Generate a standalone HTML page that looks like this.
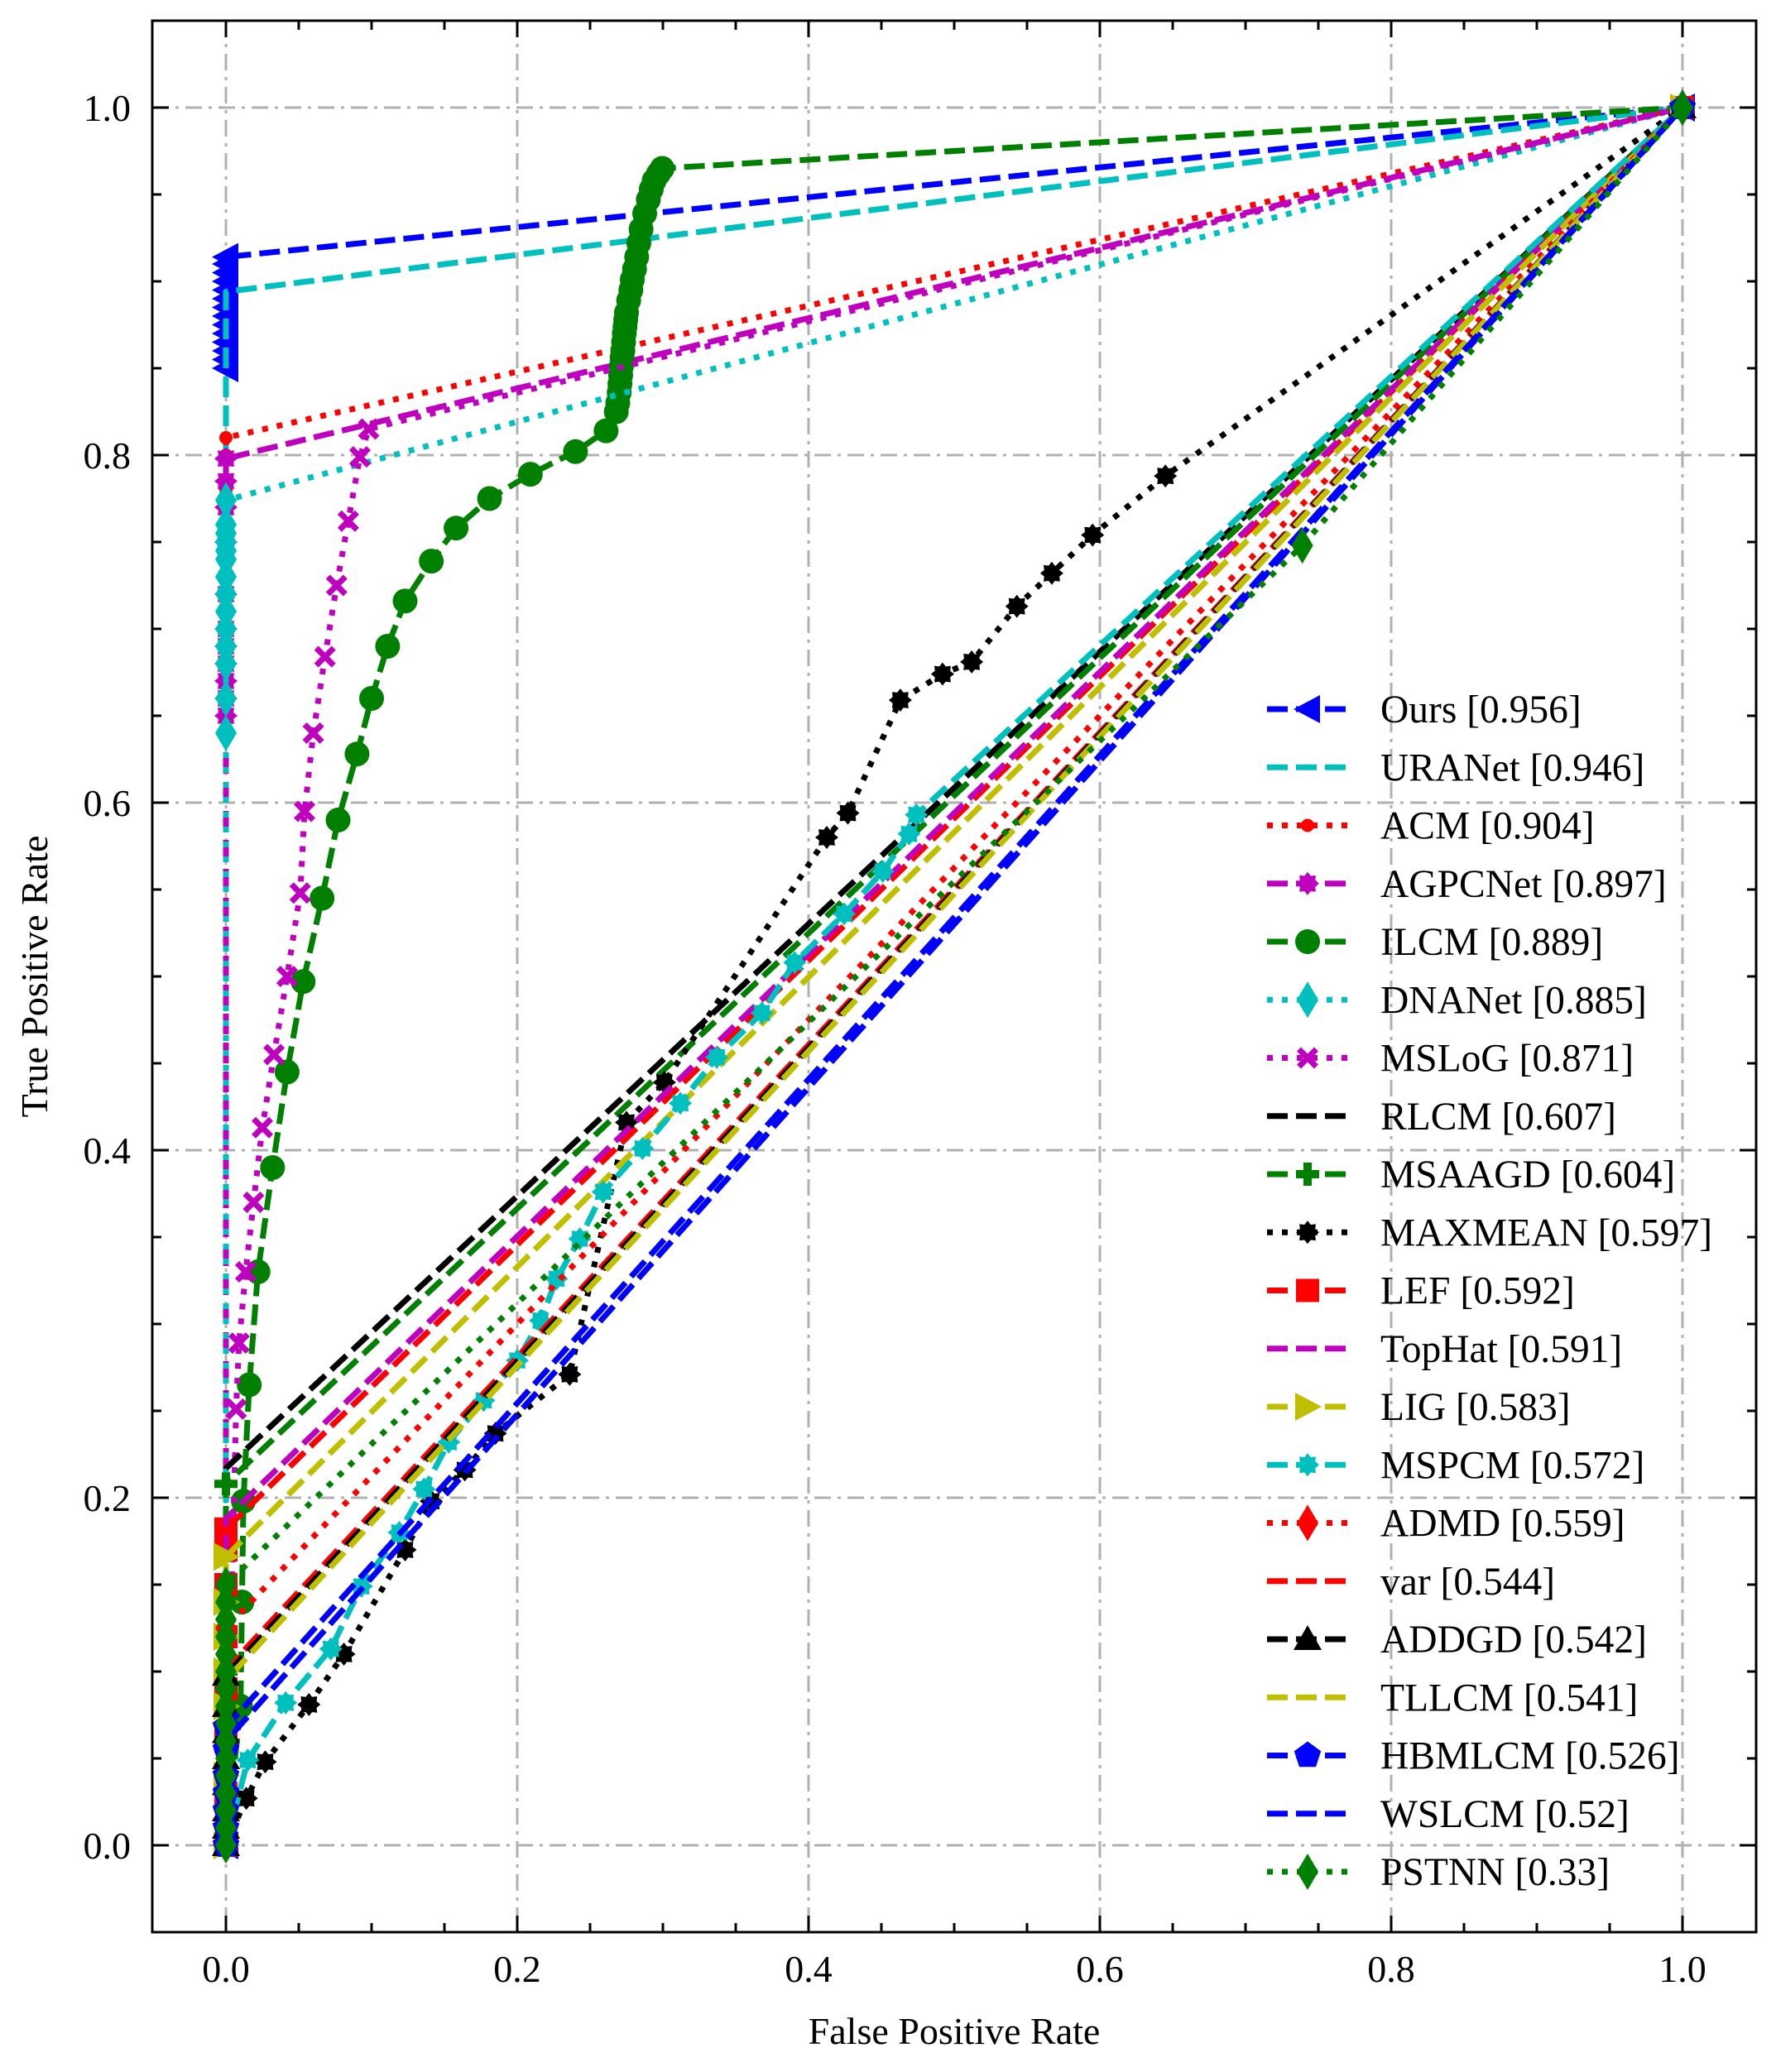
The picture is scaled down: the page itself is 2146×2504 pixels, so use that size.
<!DOCTYPE html>
<html><head><meta charset="utf-8"><style>
html,body{margin:0;padding:0;background:#fff;}
svg{display:block;font-family:"Liberation Serif",serif;}
</style></head><body>
<svg id="chart" width="2146" height="2504" viewBox="0 0 2146 2504" xmlns="http://www.w3.org/2000/svg">
<rect x="0" y="0" width="2146" height="2504" fill="#fff"/>
<g id="grid"></g><g id="series"></g><g id="legend"></g><g id="axes"></g>
</svg>
<script>
const names=["Ours","URANet","ACM","AGPCNet","ILCM","DNANet","MSLoG","RLCM","MSAAGD","MAXMEAN","LEF","TopHat","LIG","MSPCM","ADMD","var","ADDGD","TLLCM","HBMLCM","WSLCM","PSTNN"];
const aucs=["0.956","0.946","0.904","0.897","0.889","0.885","0.871","0.607","0.604","0.597","0.592","0.591","0.583","0.572","0.559","0.544","0.542","0.541","0.526","0.52","0.33"];
const fprOurs=[0,0,0,0,0,0,0,0,0,0,0,0,0,0,0,1];
const tprOurs=[0,0.85,0.855,0.86,0.865,0.87,0.875,0.88,0.885,0.89,0.895,0.9,0.905,0.91,0.914,1];
const fprURANet=[0,0,1];
const tprURANet=[0,0.894,1];
const fprACM=[0,0,0,0,0,0,0,0,1];
const tprACM=[0,0.65,0.7,0.73,0.75,0.78,0.8,0.81,1];
const fprAGPCNet=[0,0,0,0,0,0,0,0,0,0,0,0,1];
const tprAGPCNet=[0,0.65,0.66,0.67,0.68,0.69,0.7,0.72,0.75,0.77,0.785,0.798,1];
const fprILCM=[0,0.01,0.011,0.012,0.016,0.022,0.032,0.042,0.053,0.066,0.077,0.09,0.1,0.111,0.123,0.141,0.158,0.181,0.209,0.24,0.261,0.268,0.269,0.27,0.2705,0.271,0.2715,0.272,0.2725,0.273,0.2735,0.274,0.2745,0.275,0.2765,0.278,0.279,0.2805,0.282,0.2835,0.285,0.2875,0.29,0.292,0.294,0.297,0.2995,1];
const tprILCM=[0,0.08,0.14,0.198,0.265,0.33,0.39,0.445,0.497,0.545,0.59,0.628,0.66,0.69,0.716,0.739,0.758,0.775,0.789,0.802,0.814,0.825,0.83,0.836,0.841,0.846,0.851,0.856,0.86,0.865,0.87,0.874,0.878,0.882,0.889,0.895,0.901,0.907,0.914,0.922,0.93,0.939,0.947,0.953,0.958,0.962,0.965,1];
const fprDNANet=[0,0,0,0,0,0,0,0,0,0,0,0,0,0,0,1];
const tprDNANet=[0,0.64,0.66,0.68,0.69,0.7,0.71,0.72,0.73,0.74,0.745,0.75,0.755,0.76,0.774,1];
const fprMSLoG=[0,0.007,0.009,0.0136,0.019,0.025,0.033,0.042,0.051,0.054,0.06,0.068,0.076,0.084,0.092,0.098,1];
const tprMSLoG=[0,0.251,0.289,0.33,0.37,0.413,0.455,0.5,0.548,0.595,0.64,0.684,0.725,0.762,0.799,0.815,1];
const fprRLCM=[0,0,1];
const tprRLCM=[0,0.217,1];
const fprMSAAGD=[0,0,0,1];
const tprMSAAGD=[0,0.1,0.208,1];
const fprMAXMEAN=[0,0.014,0.027,0.057,0.081,0.123,0.141,0.164,0.185,0.236,0.275,0.301,0.4125,0.427,0.463,0.492,0.512,0.543,0.567,0.595,0.645,1];
const tprMAXMEAN=[0,0.027,0.048,0.081,0.11,0.17,0.198,0.216,0.237,0.271,0.416,0.439,0.58,0.594,0.659,0.674,0.681,0.713,0.732,0.754,0.788,1];
const fprLEF=[0,0,0,0,0,0,0,0,1];
const tprLEF=[0,0.03,0.06,0.09,0.12,0.15,0.17,0.182,1];
const fprTopHat=[0,0,1];
const tprTopHat=[0,0.188,1];
const fprLIG=[0,0,0,0,0,0,0,1];
const tprLIG=[0,0.04,0.08,0.1,0.12,0.14,0.166,1];
const fprMSPCM=[0,0.015,0.041,0.072,0.093,0.119,0.136,0.153,0.177,0.2,0.216,0.227,0.243,0.259,0.286,0.312,0.337,0.368,0.3905,0.4245,0.451,0.469,0.474,1];
const tprMSPCM=[0,0.049,0.082,0.113,0.149,0.18,0.205,0.232,0.256,0.279,0.302,0.326,0.349,0.376,0.401,0.427,0.4535,0.479,0.508,0.536,0.5605,0.582,0.593,1];
const fprADMD=[0,0,0,1];
const tprADMD=[0,0.06,0.125,1];
const fprVar=[0,0,1];
const tprVar=[0,0.101,1];
const fprADDGD=[0,0,0,0,0,0,0,0,1];
const tprADDGD=[0,0.01,0.02,0.035,0.05,0.065,0.08,0.098,1];
const fprTLLCM=[0,0,1];
const tprTLLCM=[0,0.095,1];
const fprHBMLCM=[0,0,0,0,0,0,0,1];
const tprHBMLCM=[0,0.01,0.02,0.03,0.04,0.055,0.068,1];
const fprWSLCM=[0,0,1];
const tprWSLCM=[0,0.06,1];
const fprPSTNN=[0,0,0,0,0,0,0,0,0,0,0,0,0,0,0,0,0.739,1];
const tprPSTNN=[0,0.01,0.02,0.03,0.04,0.05,0.06,0.07,0.08,0.09,0.1,0.11,0.12,0.13,0.14,0.15,0.748,1];
const xTicks=["0.0","0.2","0.4","0.6","0.8","1.0"];
const yTicks=["0.0","0.2","0.4","0.6","0.8","1.0"];

const NS="http://www.w3.org/2000/svg";
const X0=273,XS=1760,Y0=2230,YS=2100;
const L=184,R=2122,T=25,B=2335;
function sx(v){return X0+v*XS;}
function sy(v){return Y0-v*YS;}
function mk(tag,attrs,parent){const e=document.createElementNS(NS,tag);for(const k in attrs)e.setAttribute(k,attrs[k]);parent.appendChild(e);return e;}

const C={b:"#0000ff",c:"#00bfbf",r:"#ff0000",m:"#bf00bf",g:"#008000",k:"#000000",y:"#bfbf00"};
const DASH="25 10",DOT="7 11";
const specs=[
 [fprOurs,tprOurs,C.b,DASH,"<"],
 [fprURANet,tprURANet,C.c,DASH,null],
 [fprACM,tprACM,C.r,DOT,"."],
 [fprAGPCNet,tprAGPCNet,C.m,DASH,"cog"],
 [fprILCM,tprILCM,C.g,DASH,"o"],
 [fprDNANet,tprDNANet,C.c,DOT,"d"],
 [fprMSLoG,tprMSLoG,C.m,DOT,"X"],
 [fprRLCM,tprRLCM,C.k,DASH,null],
 [fprMSAAGD,tprMSAAGD,C.g,DASH,"P"],
 [fprMAXMEAN,tprMAXMEAN,C.k,DOT,"cog"],
 [fprLEF,tprLEF,C.r,DASH,"s"],
 [fprTopHat,tprTopHat,C.m,DASH,null],
 [fprLIG,tprLIG,C.y,DASH,">"],
 [fprMSPCM,tprMSPCM,C.c,DASH,"cog"],
 [fprADMD,tprADMD,C.r,DOT,"d"],
 [fprVar,tprVar,C.r,DASH,null],
 [fprADDGD,tprADDGD,C.k,DASH,"^"],
 [fprTLLCM,tprTLLCM,C.y,DASH,null],
 [fprHBMLCM,tprHBMLCM,C.b,DASH,"p"],
 [fprWSLCM,tprWSLCM,C.b,DASH,null],
 [fprPSTNN,tprPSTNN,C.g,DOT,"d"]
];

function marker(type,x,y,col,parent){
  let d="";
  if(type==="o"){const e=mk("circle",{cx:x,cy:y,r:15,fill:col},parent);return e;}
  if(type==="."){const e=mk("circle",{cx:x,cy:y,r:8,fill:col},parent);return e;}
  if(type==="s"){d=`M${x-14},${y-14}h28v28h-28z`;}
  else if(type==="<"){d=`M${x-17},${y}L${x+15},${y-17}L${x+15},${y+17}Z`;}
  else if(type===">"){d=`M${x+17},${y}L${x-15},${y-17}L${x-15},${y+17}Z`;}
  else if(type==="^"){d=`M${x},${y-17}L${x+17},${y+13}L${x-17},${y+13}Z`;}
  else if(type==="d"){d=`M${x},${y-22}L${x+13},${y}L${x},${y+22}L${x-13},${y}Z`;}
  else if(type==="p"){const pts=[];for(let i=0;i<5;i++){const a=-Math.PI/2+i*2*Math.PI/5;pts.push((x+17*Math.cos(a)).toFixed(1)+","+(y+17*Math.sin(a)).toFixed(1));}d="M"+pts.join("L")+"Z";}
  else if(type==="X"){const a=5,b=13;d=`M${x-b+a},${y-b}L${x},${y-a}L${x+b-a},${y-b}L${x+b},${y-b+a}L${x+a},${y}L${x+b},${y+b-a}L${x+b-a},${y+b}L${x},${y+a}L${x-b+a},${y+b}L${x-b},${y+b-a}L${x-a},${y}L${x-b},${y-b+a}Z`;}
  else if(type==="P"){const a=5,b=14;d=`M${x-a},${y-b}h${2*a}v${b-a}h${b-a}v${2*a}h${-(b-a)}v${b-a}h${-2*a}v${-(b-a)}h${-(b-a)}v${-2*a}h${b-a}z`;}
  else if(type==="cog"){const pts=[];for(let i=0;i<16;i++){const a=i*Math.PI/8;const rr=(i%2===0)?14:10;pts.push((x+rr*Math.cos(a)).toFixed(1)+","+(y+rr*Math.sin(a)).toFixed(1));}d="M"+pts.join("L")+"Z";}
  return mk("path",{d:d,fill:col},parent);
}

const grid=document.getElementById("grid");
const xVals=xTicks.map(Number), yVals=yTicks.map(Number);
xVals.forEach((v,i)=>{
  const gl=mk("line",{x1:sx(v),x2:sx(v),y1:T,y2:B,stroke:"#b0b0b0","stroke-width":3,"stroke-dasharray":"20 8 4 8"},grid);
  
  
});
yVals.forEach((v,i)=>{
  const gl=mk("line",{x1:L,x2:R,y1:sy(v),y2:sy(v),stroke:"#b0b0b0","stroke-width":3,"stroke-dasharray":"20 8 4 8"},grid);
  
  
});

const sg=document.getElementById("series");
specs.forEach((s,i)=>{
  const [fx,ty,col,dash,m]=s;
  const g=mk("g",{},sg);
  
  
  const pts=fx.map((v,j)=>sx(v).toFixed(1)+","+sy(ty[j]).toFixed(1)).join(" ");
  const pl=mk("polyline",{points:pts,fill:"none",stroke:col,"stroke-width":7,"stroke-dasharray":dash,"stroke-linejoin":"round"},g);
  
  
  if(m){fx.forEach((v,j)=>{
    const me=marker(m,sx(v),sy(ty[j]),col,g);
    
    
  });}
});

const lg=document.getElementById("legend");
specs.forEach((s,i)=>{
  const col=s[2],dash=s[3],m=s[4];
  const yy=857+i*70.25;
  const g=mk("g",{},lg);
  
  
  mk("line",{x1:1531,x2:1628,y1:yy,y2:yy,stroke:col,"stroke-width":7,"stroke-dasharray":dash},g);
  if(m)marker(m,1580,yy,col,g);
  const t=mk("text",{x:1668,y:yy+16,"font-size":47.5,fill:"#000"},g);
  t.textContent=names[i]+" ["+aucs[i]+"]";
});

const ax=document.getElementById("axes");
const frame=mk("rect",{x:L,y:T,width:R-L,height:B-T,fill:"none",stroke:"#000","stroke-width":3},ax);


for(let k=-1;k<=21;k++){
  const v=k*0.05; const major=(k%4===0);
  const len=major?20:11;
  const px=sx(v);
  if(px>L+1&&px<R-1){
    mk("line",{x1:px,x2:px,y1:B,y2:B-len,stroke:"#000","stroke-width":3},ax);
    mk("line",{x1:px,x2:px,y1:T,y2:T+len,stroke:"#000","stroke-width":3},ax);
  }
  const py=sy(v);
  if(py>T+1&&py<B-1){
    mk("line",{x1:L,x2:L+len,y1:py,y2:py,stroke:"#000","stroke-width":3},ax);
    mk("line",{x1:R,x2:R-len,y1:py,y2:py,stroke:"#000","stroke-width":3},ax);
  }
}
xTicks.forEach((lab,i)=>{
  const t=mk("text",{x:sx(Number(lab)),y:2395,"font-size":46,"text-anchor":"middle",fill:"#000"},ax);
  t.textContent=lab;
  
  
});
yTicks.forEach((lab,i)=>{
  const t=mk("text",{x:158,y:sy(Number(lab))+16,"font-size":46,"text-anchor":"end",fill:"#000"},ax);
  t.textContent=lab;
  
  
});
const xl=mk("text",{x:1153,y:2470,"font-size":46,"text-anchor":"middle",fill:"#000"},ax);
xl.textContent="False Positive Rate";


const yl=mk("text",{x:0,y:0,"font-size":46,"text-anchor":"middle",fill:"#000",transform:"translate(57,1180) rotate(-90)"},ax);
yl.textContent="True Positive Rate";


</script>
</body></html>
